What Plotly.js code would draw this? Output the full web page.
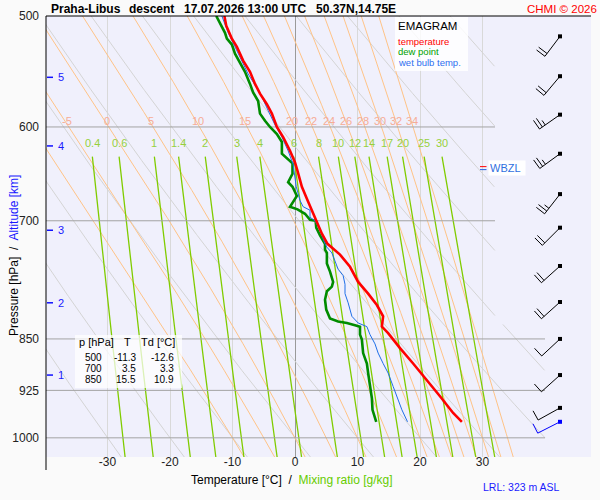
<!DOCTYPE html>
<html><head><meta charset="utf-8">
<script src="https://cdn.plot.ly/plotly-3.0.1.min.js"></script>
<style>html,body{margin:0;padding:0;background:#fafafa;}</style>
</head><body><div id="chart" style="width:600px;height:500px;"></div>
<script>
// ---------------- data ----------------
const tempP = [500,508,519,526,538,548,559,568,578,587,600,610,624,636,645,662,675,688,696,704,715,727,740,755,774,789,804,819,833,842,863,885,909,934,960,974];
const tempT = [-11.3,-11.0,-10.1,-9.3,-8.3,-7.2,-6.4,-5.6,-4.5,-3.7,-2.9,-1.9,-0.8,0.0,0.4,1.1,1.9,2.7,3.2,3.6,4.3,5.2,7.2,8.8,10.1,11.7,13.1,14.1,13.9,14.9,16.8,18.9,21.1,23.2,25.3,26.7];
const dewP = [500,514,519,524,532,540,548,559,567,575,587,594,600,607,615,627,632,637,648,657,662,672,684,687,692,699,700,708,717,727,734,738,751,761,774,780,786,797,810,822,826,828,831,833,844,851,870,885,899,919,937,955,974];
const dewT = [-12.6,-11.2,-10.9,-10.1,-9.6,-8.8,-8.0,-7.2,-6.7,-5.9,-5.6,-4.8,-4.0,-2.9,-2.1,-2.1,-1.3,-0.4,-0.4,-1.1,-0.4,0.3,-0.8,0.4,1.6,2.4,3.3,3.4,4.0,4.8,4.8,5.1,5.1,5.6,6.1,5.9,5.1,4.8,5.0,5.6,6.9,8.3,9.6,10.4,10.4,10.7,10.9,11.5,11.7,12.0,12.3,12.4,13.0];
const wbP = [500,514,526,538,550,560,571,584,598,610,624,638,652,662,677,684,688,696,700,711,727,731,738,748,758,766,777,789,801,819,828,833,844,857,870,885,899,919,939,955,974];
const wbT = [-11.7,-10.7,-9.6,-8.5,-7.5,-6.4,-5.3,-4.3,-3.2,-2.1,-1.1,-0.3,0.0,0.2,0.8,1.3,2.4,2.4,3.2,4.0,4.8,5.1,5.9,6.4,6.9,7.7,8.0,8.0,8.5,9.1,10.1,11.5,12.0,12.8,13.3,14.1,14.9,15.7,16.5,17.1,18.0];

const tableP = [500,700,850];
const tableT = [-11.3,3.5,15.5];
const tableTd = [-12.6,3.3,10.9];

const altKm = [1,2,3,4,5];
const altP = [902,801,711,619,553];

const barbP = [517,552,588,627,670,708,754,800,850,902,952];
const barbDir = [217,220,235,234,218,225,228,228,227,228,241];
const barbSpd = [20,20,25,25,25,20,20,20,10,10,10];
const sfcP = 974, sfcDir = 243, sfcSpd = 10;

const wbzlP = 642;
const lrlText = 'LRL: 323 m ASL';

const pressureTicks = [500,600,700,850,925,1000];
const tempTicks = [-30,-20,-10,0,10,20,30];
const dryThetaC = [-30,-20,-10,0,10,20,30,40,50,60,70,80,90,100];
const thetaW = [-10,-5,0,5,10,15,20,22,24,26,28,30,32,34];
const thetaWLabels = [-5,0,5,10,15,20,22,24,26,28,30,32,34];
const mixRatios = [0.4,0.6,1,1.4,2,3,4,6,8,10,12,14,17,20,25,30];

const titleParts = ['Praha-Libus','descent','17.07.2026 13:00 UTC','50.37N,14.75E'];

// ---------------- geometry / helpers ----------------
const FONT = 'Liberation Sans, Arial, Helvetica, sans-serif';
const M = {l:46, r:9, t:16, b:43};
const W = 600-M.l-M.r, H = 500-M.t-M.b;
const xRange = [-39.84, 47.36];
const pTop = 500, pBot = 1032;
const pxPerC = W/(xRange[1]-xRange[0]);
const pxPerLn = H/Math.log(pBot/pTop);
const px2T = px => xRange[0] + (px-M.l)/pxPerC;
const paperX = px => (px-M.l)/W;
const paperY = py => (M.t+H-py)/H;
const Tmax = p => (p < 830 ? 32 : 40);

function clipCurve(ps, Ts){
  const x=[], y=[];
  for(let i=0;i<ps.length;i++){
    if(Ts[i] <= Tmax(ps[i])){ x.push(Ts[i]); y.push(ps[i]); }
    else if(x.length && x[x.length-1]!==null){ x.push(null); y.push(null); }
  }
  x.push(null); y.push(null);
  return {x,y};
}
function concatCurves(list){
  const x=[], y=[];
  list.forEach(c=>{ x.push(...c.x); y.push(...c.y); });
  return {x,y};
}
function interpAt(ps, Ts, p){
  for(let i=0;i<ps.length-1;i++){
    const a=ps[i], b=ps[i+1];
    if((p-a)*(p-b)<=0){ const f=(p-a)/(b-a); return Ts[i]+f*(Ts[i+1]-Ts[i]); }
  }
  return null;
}

// thermodynamics for the diagram's reference lines
const Rd=287.04, cp=1005.7, Lv=2.501e6, eps=0.622, kappa=Rd/cp;
const es = Tc => 6.112*Math.exp(17.67*Tc/(Tc+243.5));
const rs = (Tc,p) => { const e=es(Tc); return eps*e/(p-e); };
function dTdp(Tc,p){
  const T=Tc+273.15, r=rs(Tc,p);
  return (1/p)*(Rd*T + Lv*r)/(cp + Lv*Lv*r*eps/(Rd*T*T));
}
function integrate(T0, p0, p1, step){
  const ps=[p0], Ts=[T0]; let T=T0, p=p0;
  const dir = p1<p0 ? -1 : 1;
  while((p1-p)*dir > 1e-9){
    const h = dir*Math.min(step, Math.abs(p1-p));
    const k1=dTdp(T,p), k2=dTdp(T+h/2*k1,p+h/2), k3=dTdp(T+h/2*k2,p+h/2), k4=dTdp(T+h*k3,p+h);
    T += h/6*(k1+2*k2+2*k3+k4); p += h;
    ps.push(p); Ts.push(T);
  }
  return {ps,Ts};
}
function moistAdiabat(thw){
  const up = integrate(thw,1000,pTop,1);
  const dn = integrate(thw,1000,pBot,1);
  const ps = up.ps.slice().reverse().concat(dn.ps.slice(1));
  const Ts = up.Ts.slice().reverse().concat(dn.Ts.slice(1));
  return {ps,Ts};
}
function dryAdiabat(thC){
  const ps=[], Ts=[];
  for(let p=pTop;p<=pBot;p+=1){ ps.push(p); Ts.push((thC+273.15)*Math.pow(p/1000,kappa)-273.15); }
  return {ps,Ts};
}
function mixLine(w){
  const ps=[], Ts=[];
  for(let p=630;p<=pBot;p+=2){
    const e = p*(w/1000)/(eps+w/1000);
    const l = Math.log(e/6.112);
    ps.push(p); Ts.push(243.5*l/(17.67-l));
  }
  return {ps,Ts};
}

// ---------------- background line families ----------------
const dry = concatCurves(dryThetaC.map(th=>{ const c=dryAdiabat(th); return clipCurve(c.ps,c.Ts); }));
const moistCurves = {};
thetaW.forEach(t=>{ moistCurves[t]=moistAdiabat(t); });
const moist = concatCurves(thetaW.map(t=>clipCurve(moistCurves[t].ps, moistCurves[t].Ts)));
const mixCurves = mixRatios.map(w=>mixLine(w));
const mix = concatCurves(mixCurves.map(c=>clipCurve(c.ps,c.Ts)));

const gridX=[], gridY=[];
pressureTicks.filter(p=>p!==pTop).forEach(p=>{ gridX.push(xRange[0]-1, Tmax(p), null); gridY.push(p,p,null); });

const traces = [];
traces.push({x:dry.x, y:dry.y, mode:'lines', line:{color:'#d4d4d4', width:1}, hoverinfo:'skip'});
traces.push({x:moist.x, y:moist.y, mode:'lines', line:{color:'rgb(255,195,135)', width:1}, hoverinfo:'skip'});
traces.push({x:mix.x, y:mix.y, mode:'lines', line:{color:'rgb(128,204,0)', width:1.3}, hoverinfo:'skip'});
traces.push({x:gridX, y:gridY, mode:'lines', line:{color:'#a3a3a3', width:1}, hoverinfo:'skip'});

// altitude marks
const altX=[], altY=[];
altP.forEach(p=>{ altX.push(px2T(47), px2T(53), null); altY.push(p,p,null); });
traces.push({x:altX, y:altY, mode:'lines', line:{color:'#1010ff', width:1.5}, hoverinfo:'skip'});

// sounding
traces.push({x:dewT, y:dewP, mode:'lines', line:{color:'#008c00', width:2.6}, hoverinfo:'skip'});
traces.push({x:wbT, y:wbP, mode:'lines', line:{color:'#1e6ee8', width:1}, hoverinfo:'skip'});
traces.push({x:tempT, y:tempP, mode:'lines', line:{color:'#ff0000', width:2.6}, hoverinfo:'skip'});

// wind barbs
const barbT0 = px2T(560);
function offsetPt(p0, dx, dy){ return [barbT0 + dx/pxPerC, p0*Math.exp(dy/pxPerLn)]; }
function barb(p0, dir, spd, x, y){
  const rad = dir*Math.PI/180;
  const ux = Math.sin(rad), uy = -Math.cos(rad);
  const bx = -uy, by = ux;
  const L = 25;
  const tx = L*ux, ty = L*uy;
  let a = offsetPt(p0,0,0), b = offsetPt(p0,tx,ty);
  x.push(a[0], b[0], null); y.push(a[1], b[1], null);
  const full = Math.floor(spd/10), half = (spd%10)>=5 ? 1 : 0;
  let s = 0;
  for(let i=0;i<full+half;i++){
    const len = i<full ? 10.5 : 5.5;
    const sx = tx - s*ux, sy = ty - s*uy;
    const s0 = offsetPt(p0,sx,sy), s1 = offsetPt(p0,sx+len*bx,sy+len*by);
    x.push(s0[0], s1[0], null); y.push(s0[1], s1[1], null);
    s += 3.5;
  }
}
const bX=[], bY=[];
barbP.forEach((p,i)=>barb(p, barbDir[i], barbSpd[i], bX, bY));
traces.push({x:bX, y:bY, mode:'lines', line:{color:'#000', width:1}, hoverinfo:'skip'});
traces.push({x:barbP.map(()=>barbT0), y:barbP, mode:'markers', marker:{symbol:'square', size:4, color:'#000'}, hoverinfo:'skip'});
const sX=[], sY=[];
barb(sfcP, sfcDir, sfcSpd, sX, sY);
traces.push({x:sX, y:sY, mode:'lines', line:{color:'#0000ff', width:1}, hoverinfo:'skip'});
traces.push({x:[barbT0], y:[sfcP], mode:'markers', marker:{symbol:'square', size:4, color:'#0000ff'}, hoverinfo:'skip'});

// WBZL marks
const wbzlUp = wbzlP*Math.exp(-1.5/pxPerLn), wbzlDn = wbzlP*Math.exp(1.5/pxPerLn);
traces.push({x:[px2T(480),px2T(486.5)], y:[wbzlUp,wbzlUp], mode:'lines', line:{color:'#ff0000', width:1}, hoverinfo:'skip'});
traces.push({x:[px2T(480),px2T(486.5)], y:[wbzlDn,wbzlDn], mode:'lines', line:{color:'#2060e0', width:1}, hoverinfo:'skip'});

// ---------------- annotations ----------------
const ann = [];
function aPx(px, py, text, o){
  ann.push(Object.assign({xref:'paper', yref:'paper', x:paperX(px), y:paperY(py), text:text, showarrow:false,
    xanchor:'left', yanchor:'middle', borderpad:0, font:{family:FONT, size:11, color:'#000'}}, o||{}));
}
function aData(T, p, text, o){
  ann.push(Object.assign({xref:'x', yref:'y', x:T, y:Math.log10(p), text:text, showarrow:false,
    xanchor:'center', yanchor:'middle', borderpad:0, font:{family:FONT, size:11, color:'#000'}}, o||{}));
}
// title
const titleX = [50,128,183,315];
titleParts.forEach((t,i)=>aPx(titleX[i], 8.5, '<b>'+t+'</b>', {font:{family:FONT,size:12,color:'#000'}}));
aPx(598, 8.5, 'CHMI © 2026', {xanchor:'right', font:{family:FONT,size:11.5,color:'#ff0000'}});
// axis titles
aPx(14, 256, 'Pressure [hPa]  /  <span style="color:#1a1aff">Altitude [km]</span>', {xanchor:'center', textangle:-90, font:{family:FONT,size:12,color:'#000'}});
aPx(292, 480, 'Temperature [°C]  /  <span style="color:#66cc00">Mixing ratio [g/kg]</span>', {xanchor:'center', font:{family:FONT,size:12,color:'#000'}});
aPx(482, 487, lrlText, {font:{family:FONT,size:10.5,color:'#1a1aff'}});
// legend
aPx(397, 26, 'EMAGRAM', {font:{family:FONT,size:11.5,color:'#000'}});
aPx(397, 41.2, 'temperature', {font:{family:FONT,size:9.5,color:'#ff0000'}});
aPx(397, 52, 'dew point', {font:{family:FONT,size:9.5,color:'#00a000'}});
aPx(397, 62.8, 'wet bulb temp.', {font:{family:FONT,size:9.5,color:'#2f6fef'}});
// table
aPx(78, 342, 'p [hPa]', {font:{family:FONT,size:11,color:'#000'}});
aPx(127.5, 342, 'T', {xanchor:'center', font:{family:FONT,size:11,color:'#000'}});
aPx(140, 342, 'Td [°C]', {font:{family:FONT,size:11,color:'#000'}});
tableP.forEach((p,i)=>{
  const y = 357 + i*11.4;
  const f = {family:FONT,size:10,color:'#000'};
  aPx(103, y, String(p), {xanchor:'right', font:f});
  aPx(137, y, tableT[i].toFixed(1), {xanchor:'right', font:f});
  aPx(175, y, tableTd[i].toFixed(1), {xanchor:'right', font:f});
});
// altitude numbers
altP.forEach((p,i)=>aData(px2T(56.5), p, String(altKm[i]), {xanchor:'left', font:{family:FONT,size:11,color:'#1a1aff'}}));
// theta-w labels
thetaWLabels.forEach(t=>{
  const c = moistCurves[t];
  aData(interpAt(c.ps,c.Ts,600)-0.3, 594, String(t), {font:{family:FONT,size:11,color:'rgb(246,172,150)'}});
});
// mixing ratio labels
mixRatios.forEach((w,i)=>{
  const c = mixCurves[i];
  aData(c.Ts[0], 616, String(w), {font:{family:FONT,size:11,color:'rgb(150,208,60)'}});
});
// WBZL
aData(px2T(487.5), wbzlP, 'WBZL', {xanchor:'left', bgcolor:'#ffffff', width:34, align:'left', borderpad:1, font:{family:FONT,size:11,color:'#2f6fdf'}});

// ---------------- shapes ----------------
const shapes = [
  {type:'line', xref:'paper', yref:'paper', x0:0, x1:1, y0:1, y1:1, line:{color:'#000', width:1}},
  {type:'line', xref:'paper', yref:'paper', x0:0, x1:0, y0:paperY(470), y1:1, line:{color:'#000', width:1}},
  {type:'rect', xref:'paper', yref:'paper', x0:paperX(395), x1:paperX(468), y0:paperY(71), y1:paperY(17), line:{width:0}, fillcolor:'rgba(255,255,255,0.82)', layer:'above'},
  {type:'rect', xref:'paper', yref:'paper', x0:paperX(75), x1:paperX(182), y0:paperY(388), y1:paperY(335), line:{width:0}, fillcolor:'rgba(255,255,255,0.72)', layer:'above'}
];

const layout = {
  width:600, height:500,
  margin:{l:M.l, r:M.r, t:M.t, b:M.b, pad:0},
  paper_bgcolor:'#fafafa', plot_bgcolor:'#f0f0fc',
  showlegend:false,
  font:{family:FONT, size:12, color:'#222'},
  xaxis:{range:xRange, tickvals:tempTicks, ticktext:tempTicks.map(String), showgrid:true, gridcolor:'#d9d9d9', gridwidth:1,
    zeroline:true, zerolinecolor:'#9a9a9a', zerolinewidth:1, showline:false, ticks:'', ticklabelstandoff:-4,
    tickfont:{family:FONT, size:12, color:'#222'}, fixedrange:true},
  yaxis:{type:'log', range:[Math.log10(pBot), Math.log10(pTop)], tickvals:pressureTicks, ticktext:pressureTicks.map(String),
    showgrid:false, zeroline:false, showline:false, ticks:'', ticklabelstandoff:6,
    tickfont:{family:FONT, size:12, color:'#222'}, fixedrange:true},
  annotations:ann,
  shapes:shapes
};
Plotly.newPlot('chart', traces, layout, {staticPlot:true, displayModeBar:false});
</script>
</body></html>
